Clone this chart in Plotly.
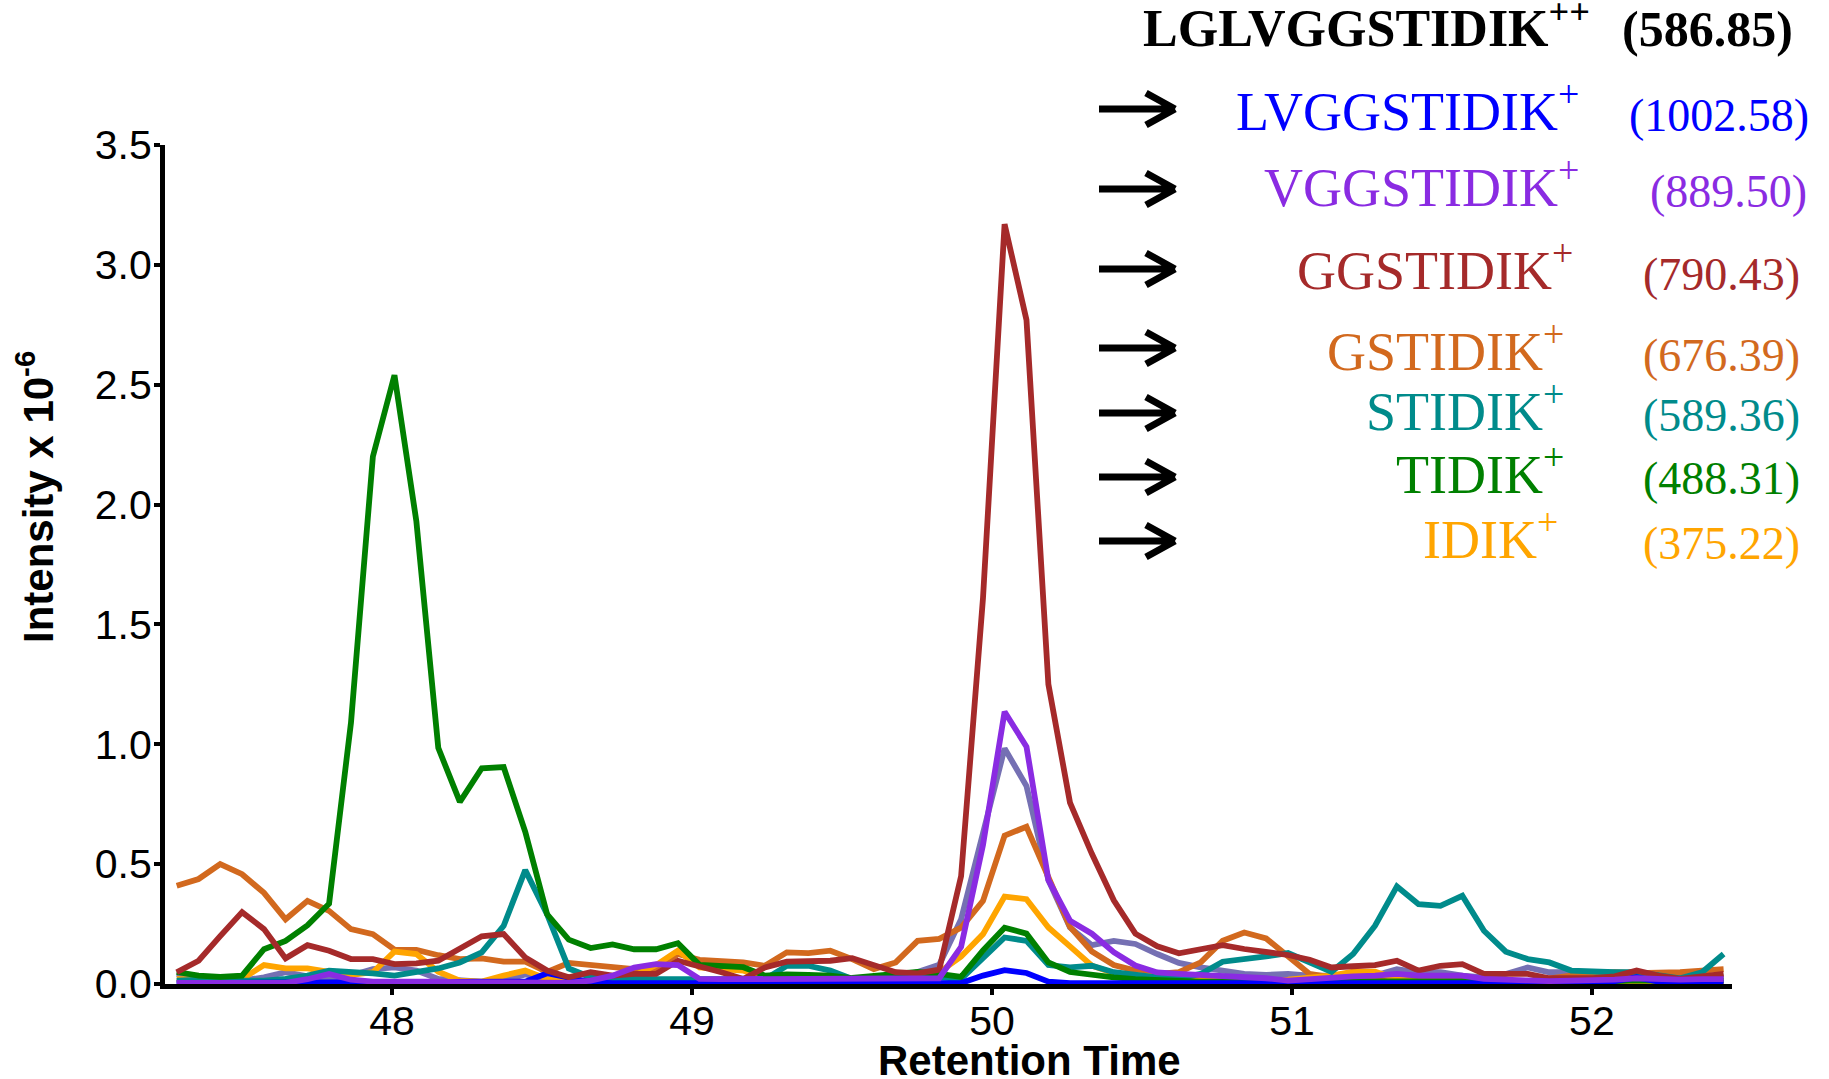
import plotly.graph_objects as go

# Retention time of each scan (min)
retention_time = [
    47.282, 47.355, 47.427, 47.500, 47.573, 47.645, 47.718, 47.790, 47.863, 47.936,
    48.008, 48.081, 48.154, 48.226, 48.299, 48.372, 48.444, 48.517, 48.589, 48.662,
    48.735, 48.807, 48.880, 48.953, 49.025, 49.098, 49.171, 49.243, 49.316, 49.388,
    49.461, 49.534, 49.606, 49.679, 49.752, 49.824, 49.897, 49.970, 50.042, 50.115,
    50.188, 50.260, 50.333, 50.406, 50.478, 50.551, 50.623, 50.696, 50.769, 50.841,
    50.914, 50.987, 51.059, 51.132, 51.204, 51.277, 51.350, 51.422, 51.495, 51.568,
    51.640, 51.713, 51.786, 51.858, 51.931, 52.003, 52.076, 52.149, 52.221, 52.294,
    52.367, 52.439,
]

# Extracted ion intensities (x 10^-6)
precursor_2plus = [
    0.042, 0.028, 0.021, 0.014, 0.028, 0.049, 0.032, 0.021, 0.035, 0.062,
    0.069, 0.056, 0.021, 0.015, 0.010, 0.015, 0.040, 0.020, 0.010, 0.012,
    0.012, 0.010, 0.012, 0.015, 0.012, 0.010, 0.012, 0.015, 0.018, 0.020,
    0.022, 0.020, 0.018, 0.025, 0.050, 0.080, 0.270, 0.620, 0.983, 0.826,
    0.434, 0.236, 0.162, 0.180, 0.167, 0.125, 0.088, 0.069, 0.056, 0.042,
    0.038, 0.042, 0.035, 0.032, 0.035, 0.035, 0.062, 0.049, 0.049, 0.035,
    0.028, 0.042, 0.069, 0.049, 0.049, 0.049, 0.042, 0.035, 0.032, 0.028,
    0.028, 0.028,
]
lvggstidik = [
    0.004, 0.004, 0.004, 0.004, 0.004, 0.004, 0.004, 0.004, 0.004, 0.004,
    0.004, 0.004, 0.004, 0.004, 0.004, 0.004, 0.010, 0.045, 0.025, 0.008,
    0.004, 0.004, 0.004, 0.004, 0.004, 0.004, 0.004, 0.004, 0.004, 0.004,
    0.004, 0.004, 0.004, 0.004, 0.004, 0.004, 0.004, 0.035, 0.058, 0.046,
    0.010, 0.004, 0.004, 0.004, 0.004, 0.004, 0.004, 0.004, 0.004, 0.004,
    0.004, 0.004, 0.004, 0.004, 0.004, 0.004, 0.004, 0.004, 0.004, 0.004,
    0.004, 0.004, 0.004, 0.004, 0.004, 0.004, 0.012, 0.028, 0.010, 0.004,
    0.004, 0.004,
]
vggstidik = [
    0.005, 0.005, 0.005, 0.005, 0.005, 0.005, 0.020, 0.042, 0.018, 0.010,
    0.010, 0.012, 0.010, 0.008, 0.008, 0.008, 0.008, 0.005, 0.005, 0.014,
    0.035, 0.069, 0.083, 0.079, 0.021, 0.020, 0.020, 0.022, 0.022, 0.020,
    0.020, 0.022, 0.024, 0.022, 0.022, 0.024, 0.155, 0.580, 1.136, 0.990,
    0.434, 0.264, 0.210, 0.133, 0.077, 0.048, 0.042, 0.038, 0.032, 0.032,
    0.024, 0.014, 0.021, 0.028, 0.032, 0.035, 0.042, 0.035, 0.035, 0.035,
    0.021, 0.015, 0.015, 0.012, 0.012, 0.015, 0.018, 0.024, 0.020, 0.018,
    0.020, 0.020,
]
ggstidik = [
    0.049, 0.097, 0.200, 0.300, 0.229, 0.107, 0.162, 0.139, 0.104, 0.104,
    0.083, 0.086, 0.097, 0.146, 0.199, 0.208, 0.111, 0.056, 0.028, 0.049,
    0.035, 0.042, 0.042, 0.097, 0.076, 0.049, 0.021, 0.069, 0.093, 0.097,
    0.097, 0.108, 0.076, 0.049, 0.044, 0.060, 0.450, 1.610, 3.170, 2.770,
    1.250, 0.757, 0.543, 0.349, 0.210, 0.157, 0.128, 0.145, 0.162, 0.146,
    0.132, 0.121, 0.101, 0.069, 0.074, 0.079, 0.097, 0.056, 0.076, 0.083,
    0.042, 0.042, 0.042, 0.024, 0.024, 0.024, 0.032, 0.056, 0.035, 0.021,
    0.032, 0.042,
]
gstidik = [
    0.410, 0.438, 0.500, 0.458, 0.380, 0.270, 0.347, 0.305, 0.229, 0.208,
    0.143, 0.142, 0.120, 0.104, 0.107, 0.093, 0.093, 0.050, 0.088, 0.079,
    0.069, 0.062, 0.062, 0.125, 0.101, 0.097, 0.090, 0.076, 0.132, 0.129,
    0.139, 0.104, 0.062, 0.090, 0.180, 0.188, 0.235, 0.347, 0.619, 0.656,
    0.440, 0.238, 0.136, 0.079, 0.056, 0.042, 0.049, 0.090, 0.180, 0.215,
    0.190, 0.118, 0.042, 0.028, 0.032, 0.030, 0.020, 0.015, 0.015, 0.012,
    0.010, 0.010, 0.012, 0.025, 0.035, 0.042, 0.049, 0.045, 0.045, 0.049,
    0.056, 0.062,
]
stidik = [
    0.014, 0.018, 0.021, 0.014, 0.014, 0.021, 0.035, 0.056, 0.051, 0.044,
    0.035, 0.049, 0.065, 0.090, 0.132, 0.243, 0.475, 0.290, 0.065, 0.028,
    0.024, 0.021, 0.020, 0.020, 0.018, 0.020, 0.022, 0.020, 0.076, 0.076,
    0.056, 0.021, 0.020, 0.022, 0.026, 0.028, 0.021, 0.111, 0.194, 0.180,
    0.079, 0.069, 0.076, 0.049, 0.038, 0.028, 0.024, 0.042, 0.093, 0.101,
    0.115, 0.129, 0.093, 0.051, 0.125, 0.243, 0.407, 0.333, 0.326, 0.368,
    0.222, 0.135, 0.104, 0.090, 0.056, 0.051, 0.049, 0.049, 0.035, 0.024,
    0.049, 0.125,
]
tidik = [
    0.050, 0.035, 0.030, 0.035, 0.145, 0.180, 0.245, 0.335, 1.090, 2.200,
    2.540, 1.930, 0.985, 0.760, 0.900, 0.905, 0.635, 0.290, 0.185, 0.150,
    0.165, 0.145, 0.145, 0.170, 0.080, 0.075, 0.070, 0.035, 0.040, 0.038,
    0.035, 0.025, 0.035, 0.045, 0.050, 0.042, 0.030, 0.140, 0.235, 0.210,
    0.090, 0.050, 0.042, 0.028, 0.020, 0.015, 0.012, 0.010, 0.010, 0.010,
    0.008, 0.008, 0.010, 0.010, 0.010, 0.010, 0.008, 0.008, 0.010, 0.010,
    0.010, 0.008, 0.008, 0.010, 0.010, 0.010, 0.012, 0.015, 0.012, 0.012,
    0.015, 0.015,
]
idik = [
    0.021, 0.014, 0.012, 0.021, 0.079, 0.065, 0.065, 0.051, 0.038, 0.049,
    0.135, 0.125, 0.051, 0.014, 0.010, 0.035, 0.056, 0.021, 0.010, 0.008,
    0.015, 0.035, 0.079, 0.139, 0.069, 0.062, 0.056, 0.021, 0.010, 0.008,
    0.008, 0.010, 0.010, 0.015, 0.040, 0.049, 0.115, 0.208, 0.365, 0.354,
    0.236, 0.157, 0.076, 0.045, 0.035, 0.024, 0.020, 0.020, 0.018, 0.015,
    0.015, 0.018, 0.025, 0.035, 0.051, 0.051, 0.021, 0.008, 0.005, 0.005,
    0.005, 0.005, 0.005, 0.005, 0.005, 0.005, 0.005, 0.005, 0.005, 0.005,
    0.005, 0.005,
]

# Fragment labels, m/z values and colours
fragment_names = ["LVGGSTIDIK", "VGGSTIDIK", "GGSTIDIK", "GSTIDIK", "STIDIK", "TIDIK", "IDIK"]
fragment_mz = ["(1002.58)", "(889.50)", "(790.43)", "(676.39)", "(589.36)", "(488.31)", "(375.22)"]
fragment_colors = ["#0000FF", "#8A2BE2", "#A52A2A", "#D2691E", "#008B8B", "#008000", "#FFA500"]
precursor_name = "LGLVGGSTIDIK"
precursor_mz = "(586.85)"
precursor_color = "#7570B3"

x_ticks = [48, 49, 50, 51, 52]
y_ticks = [0.0, 0.5, 1.0, 1.5, 2.0, 2.5, 3.0, 3.5]
y_tick_text = ["0.0", "0.5", "1.0", "1.5", "2.0", "2.5", "3.0", "3.5"]

# Page geometry (pixels)
W, H = 1829, 1079
PL, PR, PT, PB = 165, 1732, 145, 984


def px(xp):
    return (xp - PL) / (PR - PL)


def py(yp):
    return (PB - yp) / (PB - PT)


series = [
    (precursor_2plus, precursor_color),
    (gstidik, fragment_colors[3]),
    (idik, fragment_colors[6]),
    (stidik, fragment_colors[4]),
    (tidik, fragment_colors[5]),
    (lvggstidik, fragment_colors[0]),
    (ggstidik, fragment_colors[2]),
    (vggstidik, fragment_colors[1]),
]

fig = go.Figure()
for values, color in series:
    fig.add_trace(go.Scatter(
        x=retention_time, y=values, mode="lines",
        line=dict(color=color, width=5.8),
        showlegend=False, hoverinfo="skip",
    ))

serif = "Liberation Serif"
sans = "Liberation Sans"
annotations = []
shapes = []

# Precursor heading
annotations.append(dict(
    text=f"<b>{precursor_name}<sup>++</sup></b>", xref="paper", yref="paper",
    x=px(1592), y=py(48 + 11), xanchor="right", yanchor="bottom", showarrow=False,
    font=dict(family=serif, size=52, color="black"),
))
annotations.append(dict(
    text=f"<b>{precursor_mz}</b>", xref="paper", yref="paper",
    x=px(1795), y=py(48 + 11), xanchor="right", yanchor="bottom", showarrow=False,
    font=dict(family=serif, size=50, color="black"),
))

# Fragment rows: arrow, ion label, m/z
baselines = [133, 209, 292, 373, 433, 496, 561]
arrow_y = [109, 189, 269, 348, 413, 477, 541]
label_right = [1581, 1581, 1575, 1566, 1566, 1566, 1560]
mz_right = [1811, 1809, 1802, 1802, 1802, 1802, 1802]
for name, mz, color, base, ay, lr, mr in zip(
        fragment_names, fragment_mz, fragment_colors, baselines, arrow_y, label_right, mz_right):
    annotations.append(dict(
        text=f"{name}<sup>+</sup>", xref="paper", yref="paper",
        x=px(lr), y=py(base + 11), xanchor="right", yanchor="bottom", showarrow=False,
        font=dict(family=serif, size=54, color=color),
    ))
    annotations.append(dict(
        text=mz, xref="paper", yref="paper",
        x=px(mr), y=py(base + 10), xanchor="right", yanchor="bottom", showarrow=False,
        font=dict(family=serif, size=46, color=color),
    ))
    x0, x1, xh, dy = 1099, 1175, 1146, 16
    path = (f"M {px(x0)} {py(ay)} L {px(x1)} {py(ay)} "
            f"M {px(xh)} {py(ay - dy)} L {px(x1)} {py(ay)} "
            f"M {px(xh)} {py(ay + dy)} L {px(x1)} {py(ay)}")
    shapes.append(dict(type="path", xref="paper", yref="paper", path=path,
                       line=dict(color="black", width=7)))

# Axis titles
annotations.append(dict(
    text="<b>Intensity x 10<sup>-6</sup></b>", xref="paper", yref="paper",
    x=px(35), y=py(497), xanchor="center", yanchor="middle", textangle=-90,
    showarrow=False, font=dict(family=sans, size=42, color="black"),
))
annotations.append(dict(
    text="<b>Retention Time</b>", xref="paper", yref="paper",
    x=px(1029), y=py(1060), xanchor="center", yanchor="middle",
    showarrow=False, font=dict(family=sans, size=42, color="black"),
))

axis_common = dict(
    showline=True, linewidth=5, linecolor="black", mirror=False,
    ticks="outside", ticklen=6, tickwidth=4, tickcolor="black",
    showgrid=False, zeroline=False,
    tickfont=dict(family=sans, size=41, color="black"),
)

fig.update_layout(
    width=W, height=H,
    margin=dict(l=PL, r=W - PR, t=PT, b=H - PB, pad=0),
    paper_bgcolor="white", plot_bgcolor="white",
    xaxis=dict(range=[47.243, 52.467], tickvals=x_ticks, ticklabelstandoff=-9, **axis_common),
    yaxis=dict(range=[0, 3.5], tickvals=y_ticks, ticktext=y_tick_text,
               ticklabelstandoff=-6, **axis_common),
    annotations=annotations, shapes=shapes, showlegend=False,
)

fig.write_html("out.html")
